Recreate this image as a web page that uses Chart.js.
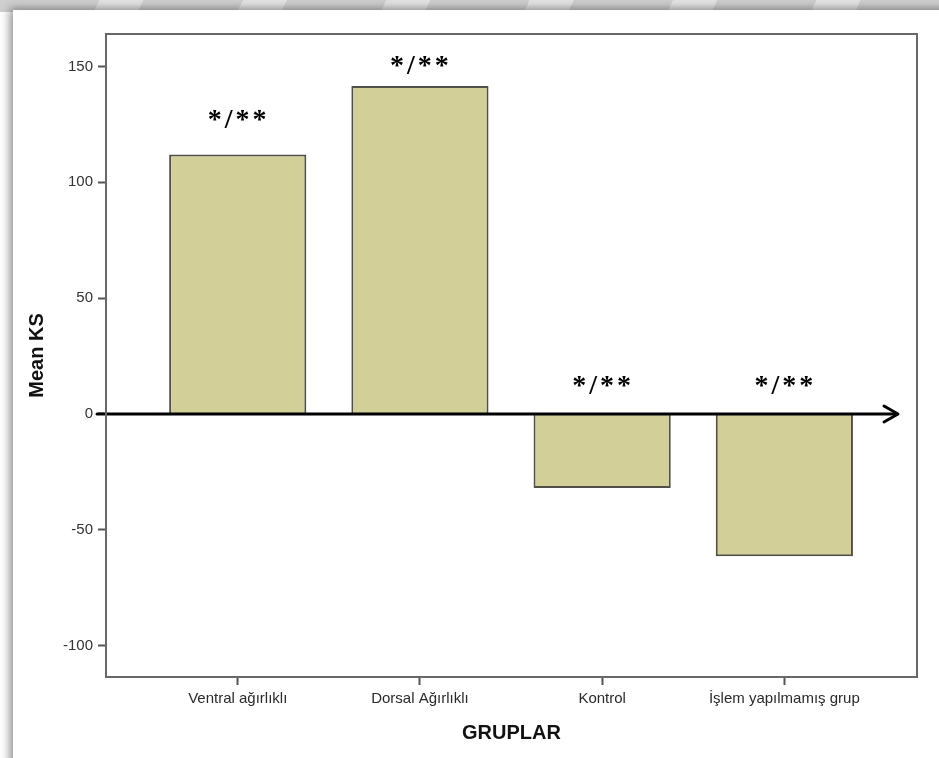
<!DOCTYPE html>
<html lang="tr">
<head>
<meta charset="utf-8">
<title>Mean KS – Gruplar</title>
<script src="https://cdn.jsdelivr.net/npm/chart.js@4/dist/chart.umd.min.js"></script>
<style>
  html, body { margin: 0; padding: 0; width: 939px; height: 758px; overflow: hidden; background: #ffffff; }
  .band {
    position: absolute; left: 0; top: 0; width: 939px; height: 12px;
    background: repeating-linear-gradient(115deg, #cfcfcf 0px, #cfcfcf 90px, #e4e4e4 90px, #e4e4e4 130px);
  }
  .card {
    position: absolute; left: 13px; top: 10px; width: 960px; height: 780px;
    background: #ffffff;
    box-shadow: -3px -1px 9px rgba(0,0,0,0.45);
  }
  #wrap { position: absolute; left: 0; top: 0; width: 939px; height: 758px; }
</style>
</head>
<body>
<div class="band"></div>
<div class="card"></div>
<div id="wrap"><canvas id="chart" width="939" height="758"></canvas></div>
<script>
// Groups and their mean KS values
const categories = ['Ventral ağırlıklı', 'Dorsal Ağırlıklı', 'Kontrol', 'İşlem yapılmamış grup'];
const meanKS = [112, 141.5, -32, -61.5];
const significance = ['*/**', '*/**', '*/**', '*/**'];
const yTicks = [-100, -50, 0, 50, 100, 150];

const points = categories.map((c, i) => ({ x: i + 1, y: meanKS[i] }));

// Outer frame around the plot area
const framePlugin = {
  id: 'frame',
  afterDraw(chart) {
    const { ctx, chartArea: a } = chart;
    ctx.save();
    ctx.strokeStyle = '#686868';
    ctx.lineWidth = 2;
    ctx.strokeRect(a.left, a.top, a.right - a.left, a.bottom - a.top);
    ctx.restore();
  }
};

// Bold zero line ending in an arrow head
const zeroArrowPlugin = {
  id: 'zeroArrow',
  afterDatasetsDraw(chart) {
    const { ctx, chartArea: a, scales: { y } } = chart;
    const y0 = Math.round(y.getPixelForValue(0));
    const x0 = a.left - 9;
    const tip = a.right - 19;
    ctx.save();
    ctx.strokeStyle = '#000';
    ctx.lineWidth = 3;
    ctx.lineCap = 'round';
    ctx.lineJoin = 'round';
    ctx.beginPath();
    ctx.moveTo(x0, y0);
    ctx.lineTo(tip - 1, y0);
    ctx.stroke();
    ctx.beginPath();
    ctx.moveTo(tip - 14, y0 - 8);
    ctx.lineTo(tip, y0);
    ctx.lineTo(tip - 14, y0 + 8);
    ctx.stroke();
    ctx.restore();
  }
};

// Significance marks above each bar (or above the zero line for negative bars)
const notesPlugin = {
  id: 'notes',
  afterDatasetsDraw(chart) {
    const { ctx, scales: { x, y } } = chart;
    const gaps = [39, 24, 32, 32];
    ctx.save();
    ctx.fillStyle = '#000';
    ctx.font = 'bold 28px "Liberation Serif", "Times New Roman", serif';
    ctx.letterSpacing = '3px';
    ctx.textAlign = 'center';
    ctx.textBaseline = 'middle';
    significance.forEach((s, i) => {
      const top = y.getPixelForValue(Math.max(0, meanKS[i]));
      ctx.fillText(s, x.getPixelForValue(i + 1) + 1, top - gaps[i] + 5);
    });
    ctx.restore();
  }
};

new Chart(document.getElementById('chart'), {
  type: 'bar',
  data: {
    datasets: [{
      data: points,
      backgroundColor: '#d3cf99',
      borderColor: '#505048',
      borderWidth: 2,
      barPercentage: 0.753,
      categoryPercentage: 1
    }]
  },
  options: {
    responsive: false,
    animation: false,
    devicePixelRatio: 1,
    layout: { padding: { left: 0, top: 34, right: 22, bottom: 0 } },
    plugins: { legend: { display: false }, tooltip: { enabled: false } },
    scales: {
      x: {
        type: 'linear',
        offset: false,
        min: 0.277,
        max: 4.728,
        afterBuildTicks(scale) { scale.ticks = categories.map((c, i) => ({ value: i + 1 })); },
        afterFit(scale) { scale.height = 81; },
        grid: { offset: false, drawOnChartArea: false, drawTicks: true, tickLength: 8, tickWidth: 2, tickColor: '#555' },
        border: { display: false },
        ticks: {
          autoSkip: false,
          maxRotation: 0,
          padding: 5,
          color: '#2a2a2a',
          font: { family: '"Liberation Sans", Arial, sans-serif', size: 15 },
          callback: (v) => categories[v - 1]
        },
        title: {
          display: true,
          text: 'GRUPLAR',
          color: '#111',
          font: { family: '"Liberation Sans", Arial, sans-serif', size: 20, weight: 'bold' },
          padding: { top: 0, bottom: 13 }
        }
      },
      y: {
        min: -113.6,
        max: 164,
        afterBuildTicks(scale) { scale.ticks = yTicks.map(v => ({ value: v })); },
        afterFit(scale) { scale.width = 106; },
        grid: { drawOnChartArea: false, drawTicks: true, tickLength: 8, tickWidth: 2, tickColor: '#555' },
        border: { display: false },
        ticks: {
          padding: 5,
          color: '#333',
          font: { family: '"Liberation Sans", Arial, sans-serif', size: 15 }
        },
        title: {
          display: true,
          text: 'Mean KS',
          color: '#111',
          font: { family: '"Liberation Sans", Arial, sans-serif', size: 20, weight: 'bold' },
          padding: { top: 25, bottom: 0 }
        }
      }
    }
  },
  plugins: [framePlugin, zeroArrowPlugin, notesPlugin]
});
</script>
</body>
</html>
